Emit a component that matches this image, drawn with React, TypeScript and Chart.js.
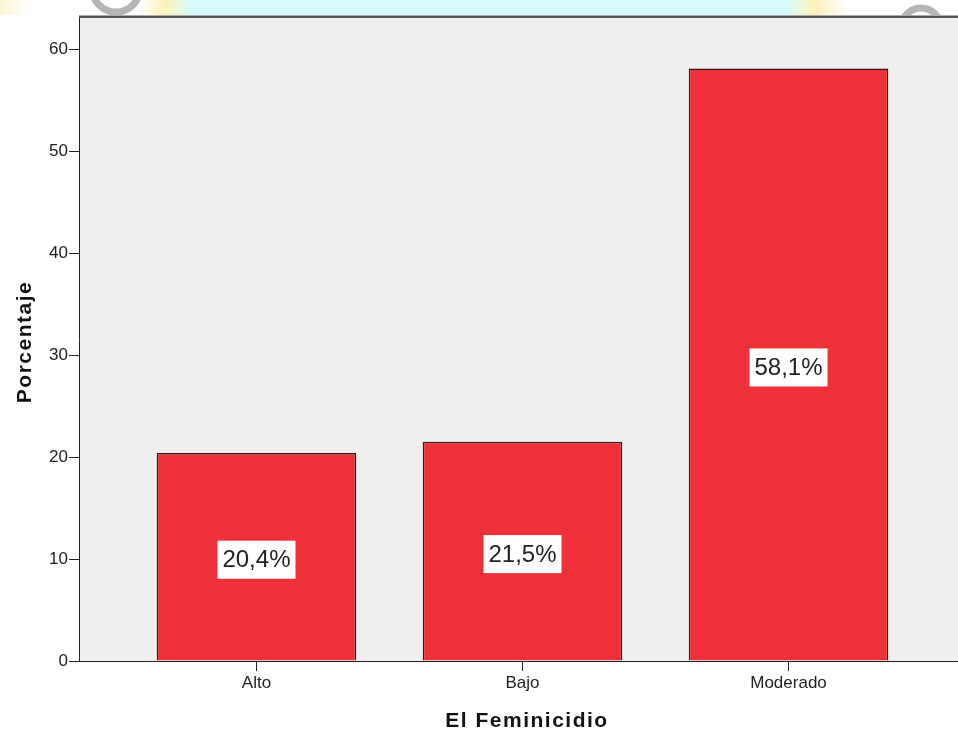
import { useEffect, useRef } from 'react';
import { Chart, registerables } from 'chart.js';

Chart.register(...registerables);

const categories = ['Alto', 'Bajo', 'Moderado'];
const percentages = [20.4, 21.5, 58.1];
const valueLabels = ['20,4%', '21,5%', '58,1%'];
const xTitle = 'El Feminicidio';
const yTitle = 'Porcentaje';

const FONT = '"Liberation Sans", Arial, sans-serif';

const decorPlugin = {
  id: 'decor',
  beforeDraw(chart: any) {
    const { ctx, chartArea: a, width, height } = chart;
    ctx.save();
    ctx.fillStyle = '#ffffff';
    ctx.fillRect(0, 0, width, height);
    // watermark band at the top
    const bandH = a.top - 2;
    const g = ctx.createLinearGradient(0, 0, width, 0);
    g.addColorStop(0, '#fdf5d2');
    g.addColorStop(0.03, '#ffffff');
    g.addColorStop(0.145, '#ffffff');
    g.addColorStop(0.172, '#fdf1b8');
    g.addColorStop(0.2, '#d6fdfd');
    g.addColorStop(0.822, '#d6fdfd');
    g.addColorStop(0.85, '#fdf1b8');
    g.addColorStop(0.885, '#ffffff');
    g.addColorStop(1, '#ffffff');
    ctx.fillStyle = g;
    ctx.fillRect(0, 0, width, bandH);
    ctx.beginPath();
    ctx.rect(0, 0, width, bandH);
    ctx.clip();
    ctx.strokeStyle = '#b5b5b5';
    ctx.lineWidth = 7;
    ctx.beginPath();
    ctx.arc(116, -12, 24, 0, Math.PI);
    ctx.stroke();
    ctx.beginPath();
    ctx.arc(921, 28, 20, Math.PI, 2 * Math.PI);
    ctx.stroke();
    ctx.restore();
    // plot background
    ctx.save();
    ctx.fillStyle = '#efefef';
    ctx.fillRect(a.left, a.top, a.right - a.left, a.bottom - a.top);
    ctx.restore();
  },
  afterDatasetsDraw(chart: any) {
    const { ctx } = chart;
    const meta = chart.getDatasetMeta(0);
    ctx.save();
    ctx.font = '24px ' + FONT;
    ctx.textAlign = 'center';
    ctx.textBaseline = 'middle';
    meta.data.forEach((bar: any, i: number) => {
      const text = valueLabels[i];
      const w = ctx.measureText(text).width + 10;
      const h = 38;
      const cx = bar.x;
      const cy = (bar.y + bar.base) / 2 + 3;
      ctx.fillStyle = '#ffffff';
      ctx.fillRect(cx - w / 2, cy - h / 2, w, h);
      ctx.fillStyle = '#222222';
      ctx.fillText(text, cx, cy + 1);
    });
    ctx.restore();
  },
  afterDraw(chart: any) {
    const { ctx, chartArea: a, width } = chart;
    ctx.save();
    // top frame line
    ctx.fillStyle = '#aaaaaa';
    ctx.fillRect(a.left, a.top - 2, width - a.left, 1);
    ctx.fillStyle = '#555555';
    ctx.fillRect(a.left, a.top - 1, width - a.left, 2);
    // axis titles
    ctx.fillStyle = '#111111';
    ctx.font = 'bold 21px ' + FONT;
    (ctx as any).letterSpacing = '1.5px';
    ctx.textAlign = 'center';
    ctx.textBaseline = 'alphabetic';
    ctx.fillText(xTitle, 527, 727);
    ctx.translate(31, 342);
    ctx.rotate(-Math.PI / 2);
    ctx.fillText(yTitle, 0, 0);
    ctx.restore();
  },
};

export default function App() {
  const ref = useRef<HTMLCanvasElement | null>(null);

  useEffect(() => {
    if (!ref.current) return;
    Chart.defaults.font.family = FONT;
    const chart = new Chart(ref.current, {
      type: 'bar',
      data: {
        datasets: [
          {
            data: percentages.map((v, i) => ({ x: i, y: v })),
            backgroundColor: '#ee3139',
            borderColor: '#3a1515',
            borderWidth: 1.5,
            categoryPercentage: 1,
            barPercentage: 0.75,
          },
        ],
      },
      options: {
        responsive: false,
        animation: false,
        layout: { padding: { top: 17, left: 0, right: 0, bottom: 0 } },
        plugins: {
          legend: { display: false },
          tooltip: { enabled: false },
        },
        scales: {
          x: {
            type: 'linear',
            min: -0.667,
            max: 2.637,
            offset: false,
            afterFit: (s: any) => {
              s.height = 70;
            },
            afterBuildTicks: (s: any) => {
              s.ticks = categories.map((_, i) => ({ value: i }));
            },
            ticks: {
              autoSkip: false,
              maxRotation: 0,
              padding: 2,
              color: '#222222',
              font: { size: 17 },
              callback: (v: any) => categories[v as number] ?? '',
            },
            grid: {
              offset: false,
              drawOnChartArea: false,
              drawTicks: true,
              tickLength: 10,
              color: '#222222',
            },
            border: { color: '#222222', width: 1 },
          },
          y: {
            min: 0,
            max: 63.14,
            afterFit: (s: any) => {
              s.width = 79;
            },
            ticks: {
              stepSize: 10,
              includeBounds: false,
              padding: 1,
              color: '#222222',
              font: { size: 17 },
            },
            grid: {
              drawOnChartArea: false,
              drawTicks: true,
              tickLength: 10,
              color: '#222222',
            },
            border: { color: '#222222', width: 1 },
          },
        },
      },
      plugins: [decorPlugin],
    });
    return () => chart.destroy();
  }, []);

  return (
    <div style={{ position: 'absolute', left: 0, top: 0, width: 958, height: 731, overflow: 'hidden' }}>
      <canvas ref={ref} width={958} height={731} style={{ display: 'block' }} />
    </div>
  );
}
